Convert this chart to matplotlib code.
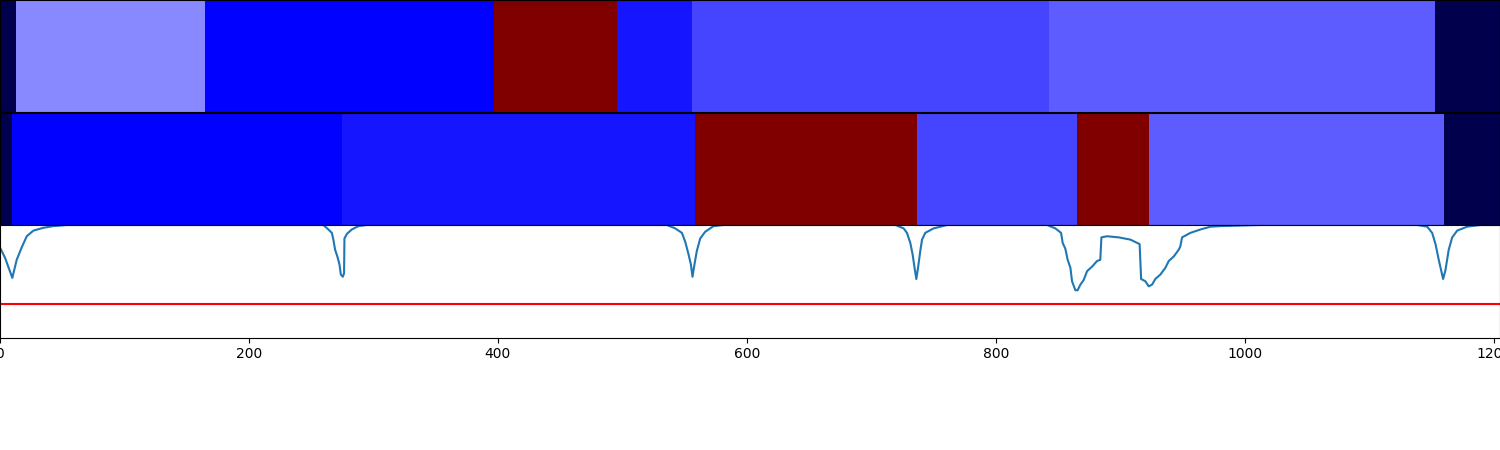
import numpy as np
import matplotlib
matplotlib.use("Agg")
import matplotlib.pyplot as plt
from matplotlib.colors import Normalize

# segment boundaries (frame where each segment starts) and class ids
n_frames = 1205
gt_starts = [0, 13, 165, 397, 496, 556, 843, 1153]
gt_labels = [0, 17, 11, 44, 12, 14, 15, 0]
pred_starts = [0, 10, 275, 558, 737, 865, 923, 1160]
pred_labels = [0, 11, 12, 44, 14, 44, 15, 0]
n_classes = 44

# confidence curve
conf_frames = [0, 4.0, 9.9, 13.4, 17.4, 21.5, 26.8, 34.8, 42.8, 53.6,
               259.8, 263.8, 266.6, 267.8, 269.2, 271.0, 272.7, 273.8, 275.4, 276.4,
               276.7, 278.6, 282.6, 287.9, 294.7,
               535.7, 542.4, 547.8, 550.5, 553.1, 555.0, 556.3, 557.9, 559.8, 562.5,
               566.5, 573.2, 581.2,
               719.2, 725.9, 728.6, 731.3, 733.1, 734.7, 736.1, 737.5, 739.3, 740.7,
               743.3, 750.0, 760.8,
               827.7, 841.1, 847.8, 852.4, 853.7, 855.8, 857.7, 859.9, 861.2, 863.9,
               865.7, 867.9, 870.5, 873.3, 877.3, 881.3, 883.9, 884.8, 889.3, 898.7,
               908.1, 915.5, 916.7, 920.1, 922.8, 925.5, 928.1, 932.2, 936.2, 938.9,
               942.9, 946.9, 948.2, 949.6, 956.3, 964.3, 972.4, 980.4, 996.5, 1012.5,
               1138.4, 1146.5, 1150.5, 1153.2, 1155.8, 1159.3, 1161.2, 1163.8, 1166.6,
               1170.6, 1178.6, 1189.3, 1205]
conf_values = [0.80, 0.71, 0.53, 0.69, 0.80, 0.90, 0.95, 0.975, 0.99, 1.0,
               1.0, 0.96, 0.93, 0.87, 0.78, 0.72, 0.65, 0.56, 0.54, 0.57,
               0.88, 0.92, 0.96, 0.99, 1.0,
               1.0, 0.97, 0.93, 0.85, 0.74, 0.65, 0.54, 0.65, 0.77, 0.88,
               0.94, 0.99, 1.0,
               1.0, 0.97, 0.93, 0.84, 0.74, 0.62, 0.52, 0.62, 0.77, 0.87,
               0.93, 0.97, 1.0,
               1.0, 1.0, 0.97, 0.93, 0.84, 0.79, 0.69, 0.62, 0.50, 0.42,
               0.42, 0.47, 0.51, 0.59, 0.63, 0.68, 0.69, 0.89, 0.90, 0.89,
               0.87, 0.83, 0.52, 0.50, 0.455, 0.47, 0.52, 0.56, 0.62, 0.68,
               0.72, 0.78, 0.81, 0.89, 0.93, 0.96, 0.985, 0.99, 0.995, 1.0,
               1.0, 0.985, 0.93, 0.83, 0.69, 0.52, 0.60, 0.78, 0.89,
               0.95, 0.985, 1.0, 1.0]
threshold = 0.3

cmap = plt.get_cmap("seismic")
norm = Normalize(vmin=0, vmax=n_classes)


def draw_segments(ax, starts, labels):
    ends = starts[1:] + [n_frames]
    for s, e, lab in zip(starts, ends, labels):
        ax.broken_barh([(s, e - s)], (0, 1), facecolors=cmap(norm(lab)))
    ax.set_xlim(0, n_frames)
    ax.set_ylim(0, 1)
    ax.set_xticks([])
    ax.set_yticks([])


fig = plt.figure(figsize=(15, 4.5), dpi=100)
ax1 = fig.add_axes([0, 0.752, 1, 0.248])
ax2 = fig.add_axes([0, 0.5, 1, 0.2485])
ax3 = fig.add_axes([0, 0.25, 1, 0.25])

draw_segments(ax1, gt_starts, gt_labels)
draw_segments(ax2, pred_starts, pred_labels)

ax3.plot(conf_frames, conf_values, color="C0")
ax3.axhline(threshold, color="red")
ax3.set_xlim(0, n_frames)
ax3.set_ylim(0, 1)
ax3.set_yticks([])
ax3.set_xticks(np.arange(0, 1201, 200))

fig.savefig("out.png", dpi=100)
